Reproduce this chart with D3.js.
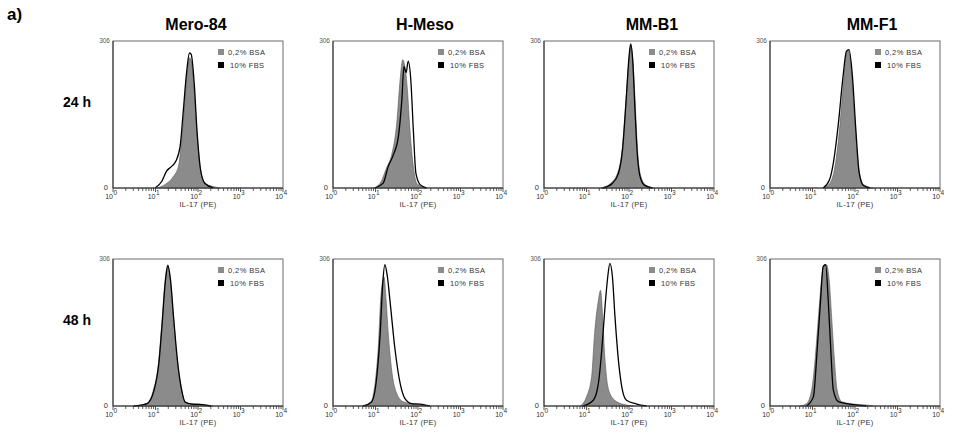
<!DOCTYPE html>
<html>
<head>
<meta charset="utf-8">
<script src="https://cdn.jsdelivr.net/npm/d3@7"></script>
<style>
  body { margin: 0; background: #fff; }
  text { font-family: "Liberation Sans", Arial, sans-serif; }
</style>
</head>
<body>
<script>
// Define dimensions
var width = 958,
    height = 435;

var cellLines = ["Mero-84", "H-Meso", "MM-B1", "MM-F1"];
var times = ["24 h", "48 h"];
var conditions = ["0,2% BSA", "10% FBS"];
var decades = [1, 10, 100, 1000, 10000];
var yMax = 306;

// histogram outlines: [log10 IL-17 (PE), events]
var meroBsa24 = [[1.03,0],[1.22,7],[1.42,24],[1.54,45],[1.65,135],[1.73,226],[1.80,271],[1.85,260],[1.91,205],[1.97,121],[2.05,45],[2.16,10],[2.36,3],[2.5,0]];
var meroFbs24 = [[0.99,0],[1.15,14],[1.26,35],[1.38,45],[1.48,56],[1.58,87],[1.65,156],[1.73,239],[1.80,281],[1.84,278],[1.91,219],[1.98,115],[2.06,38],[2.16,10],[2.36,0]];
var hmesoBsa24 = [[0.95,0],[1.11,10],[1.26,42],[1.38,69],[1.50,135],[1.58,226],[1.64,267],[1.69,253],[1.75,205],[1.81,121],[1.89,45],[1.97,10],[2.09,3],[2.2,0]];
var hmesoFbs24 = [[0.99,0],[1.18,10],[1.30,45],[1.42,69],[1.54,108],[1.62,184],[1.67,253],[1.72,240],[1.77,264],[1.83,226],[1.89,121],[1.95,31],[2.05,7],[2.2,0]];
var mmb1Bsa24 = [[1.34,0],[1.57,10],[1.73,31],[1.84,80],[1.92,170],[2.00,267],[2.04,298],[2.09,267],[2.15,170],[2.20,80],[2.26,31],[2.38,7],[2.57,0]];
var mmb1Fbs24 = [[1.38,0],[1.60,9],[1.75,30],[1.85,82],[1.93,180],[2.00,272],[2.04,300],[2.09,262],[2.14,165],[2.19,78],[2.25,28],[2.36,6],[2.55,0]];
var mmf1Bsa24 = [[1.25,0],[1.41,10],[1.53,45],[1.65,135],[1.73,219],[1.80,281],[1.84,288],[1.92,240],[2.00,135],[2.08,45],[2.20,7],[2.43,0]];
var mmf1Fbs24 = [[1.25,0],[1.40,17],[1.49,52],[1.61,135],[1.71,225],[1.80,285],[1.86,288],[1.94,232],[2.02,121],[2.10,31],[2.20,5],[2.35,0]];

var meroBsa48 = [[0.48,0],[0.64,2],[0.79,5],[0.95,33],[1.07,89],[1.15,172],[1.22,255],[1.29,294],[1.34,269],[1.42,186],[1.51,96],[1.62,33],[1.69,9],[1.81,5],[2.05,4],[2.2,2],[2.36,0]];
var meroFbs48 = [[0.50,0],[0.66,2],[0.80,5],[0.96,31],[1.08,90],[1.16,176],[1.23,258],[1.29,292],[1.35,265],[1.43,180],[1.52,92],[1.62,31],[1.70,8],[1.85,4],[2.1,3],[2.3,0]];
var hmesoBsa48 = [[0.71,0],[0.87,5],[0.99,47],[1.07,130],[1.12,220],[1.17,262],[1.20,269],[1.25,220],[1.30,151],[1.38,75],[1.50,26],[1.65,9],[1.97,3],[2.2,0]];
var hmesoFbs48 = [[0.71,0],[0.91,9],[1.03,61],[1.11,151],[1.17,255],[1.22,294],[1.28,269],[1.34,220],[1.46,117],[1.58,47],[1.69,16],[1.85,5],[2.05,4],[2.28,0]];
var mmb1Bsa48 = [[0.85,0],[1.00,19],[1.12,61],[1.19,151],[1.28,220],[1.33,241],[1.38,186],[1.42,117],[1.47,61],[1.55,26],[1.71,9],[1.94,2],[2.1,0]];
var mmb1Fbs48 = [[0.92,0],[1.16,12],[1.28,47],[1.36,117],[1.43,200],[1.50,269],[1.55,297],[1.61,269],[1.67,186],[1.75,96],[1.83,40],[1.94,12],[2.18,4],[2.41,0]];
var mmf1Bsa48 = [[0.71,0],[0.86,5],[0.98,33],[1.06,96],[1.14,186],[1.22,269],[1.27,294],[1.33,294],[1.40,255],[1.45,186],[1.51,103],[1.58,33],[1.69,9],[1.96,4],[2.27,2],[2.43,0]];
var mmf1Fbs48 = [[0.86,0],[1.02,19],[1.11,117],[1.19,220],[1.25,290],[1.31,294],[1.37,220],[1.43,117],[1.49,33],[1.61,9],[1.96,3],[2.27,0]];

var bsaSeries = [[meroBsa24, hmesoBsa24, mmb1Bsa24, mmf1Bsa24], [meroBsa48, hmesoBsa48, mmb1Bsa48, mmf1Bsa48]];
var fbsSeries = [[meroFbs24, hmesoFbs24, mmb1Fbs24, mmf1Fbs24], [meroFbs48, hmesoFbs48, mmb1Fbs48, mmf1Fbs48]];

// layout
var panelLeft = [113, 333, 544, 770],
    rowTop = [41, 259],
    titleX = [196, 425, 652, 872],
    pw = 170,
    ph = 147;

var svg = d3.select("body")
    .append("svg")
    .attr("width", width)
    .attr("height", height);

svg.append("text")
    .attr("x", 7)
    .attr("y", 20)
    .attr("font-size", "17px")
    .attr("font-weight", "bold")
    .text("a)");

cellLines.forEach(function(name, c) {
    svg.append("text")
        .attr("x", titleX[c])
        .attr("y", 30)
        .attr("text-anchor", "middle")
        .attr("font-size", "16px")
        .attr("font-weight", "bold")
        .text(name);
});

times.forEach(function(t, r) {
    svg.append("text")
        .attr("x", 63)
        .attr("y", rowTop[r] + 66)
        .attr("font-size", "14px")
        .attr("font-weight", "bold")
        .text(t);
});

var x = d3.scaleLog().domain([1, 10000]).range([0, pw]);
var y = d3.scaleLinear().domain([0, yMax]).range([ph, 0]);

var area = d3.area()
    .x(function(d) { return x(Math.pow(10, d[0])); })
    .y0(ph)
    .y1(function(d) { return y(d[1]); })
    .curve(d3.curveMonotoneX);

var line = d3.line()
    .x(function(d) { return x(Math.pow(10, d[0])); })
    .y(function(d) { return y(d[1]); })
    .curve(d3.curveMonotoneX);

times.forEach(function(t, r) {
    cellLines.forEach(function(name, c) {
        var g = svg.append("g")
            .attr("transform", "translate(" + panelLeft[c] + "," + rowTop[r] + ")");

        g.append("rect")
            .attr("width", pw)
            .attr("height", ph)
            .attr("fill", "none")
            .attr("stroke", "#6a6a6a")
            .attr("stroke-width", 1);

        g.append("path")
            .datum(bsaSeries[r][c])
            .attr("d", area)
            .attr("fill", "#8b8b8b")
            .attr("stroke", "#555")
            .attr("stroke-width", 0.6);

        g.append("path")
            .datum(fbsSeries[r][c])
            .attr("d", line)
            .attr("fill", "none")
            .attr("stroke", "#000")
            .attr("stroke-width", 1.3);

        // axes lines
        g.append("line").attr("x1", 0).attr("x2", 0).attr("y1", 0).attr("y2", ph)
            .attr("stroke", "#333");
        g.append("line").attr("x1", 0).attr("x2", pw).attr("y1", ph).attr("y2", ph)
            .attr("stroke", "#333");

        // log ticks
        g.selectAll(".tick")
            .data(x.ticks())
            .enter()
            .append("line")
            .attr("x1", function(d) { return x(d); })
            .attr("x2", function(d) { return x(d); })
            .attr("y1", ph)
            .attr("y2", function(d) { return decades.indexOf(d) >= 0 ? ph + 4 : ph + 3; })
            .attr("stroke", "#333")
            .attr("stroke-width", 0.8);

        g.selectAll(".dec")
            .data(decades)
            .enter()
            .append("text")
            .attr("x", function(d) { return x(d); })
            .attr("y", ph + 11)
            .attr("font-size", "7px")
            .attr("fill", "#333")
            .attr("text-anchor", "end")
            .text("10");
        g.selectAll(".exp")
            .data(decades)
            .enter()
            .append("text")
            .attr("x", function(d) { return x(d) + 0.5; })
            .attr("y", ph + 7)
            .attr("font-size", "6.5px")
            .attr("fill", "#333")
            .text(function(d) { return Math.round(Math.log10(d)); });

        g.append("text")
            .attr("x", x(100))
            .attr("y", ph + 19)
            .attr("text-anchor", "middle")
            .attr("font-size", "7.5px")
            .attr("letter-spacing", "0.3px")
            .attr("fill", "#333")
            .text("IL-17 (PE)");

        g.append("text")
            .attr("x", -3)
            .attr("y", 1.5)
            .attr("text-anchor", "end")
            .attr("font-size", "6.5px")
            .attr("fill", "#555")
            .text(yMax);
        g.append("text")
            .attr("x", -5)
            .attr("y", ph + 2)
            .attr("text-anchor", "end")
            .attr("font-size", "7.5px")
            .attr("fill", "#333")
            .text("0");

        // legend
        var leg = g.selectAll(".leg")
            .data(conditions)
            .enter()
            .append("g")
            .attr("transform", function(d, i) { return "translate(" + (pw - 65) + "," + (8 + i * 13) + ")"; });
        leg.append("rect")
            .attr("width", 6)
            .attr("height", 6)
            .attr("fill", function(d, i) { return i == 0 ? "#8b8b8b" : "#000"; });
        leg.append("text")
            .attr("x", function(d, i) { return i == 0 ? 10 : 12; })
            .attr("y", 5.5)
            .attr("font-size", "7.5px")
            .attr("letter-spacing", "0.4px")
            .attr("fill", "#333")
            .text(function(d) { return d; });
    });
});
</script>
</body>
</html>
